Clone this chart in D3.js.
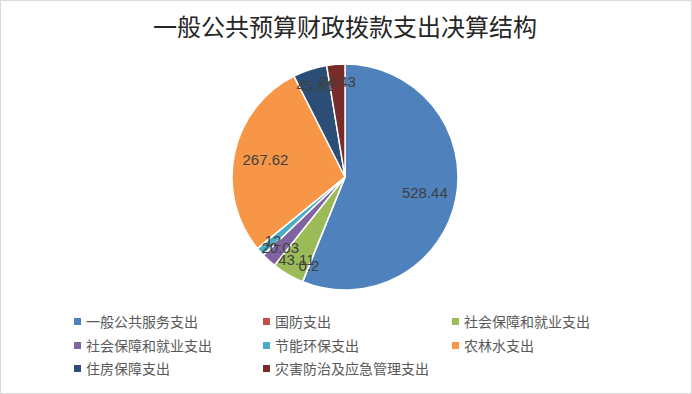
<!DOCTYPE html>
<html>
<head>
    <meta charset="utf-8">
    <script src="https://d3js.org/d3.v7.min.js" charset="utf-8"></script>
    <style>
        body { margin: 0; background: #fff; }
    </style>
</head>
<body>
    <script>
        // data
        var categories = ["一般公共服务支出", "国防支出", "社会保障和就业支出", "社会保障和就业支出",
            "节能环保支出", "农林水支出", "住房保障支出", "灾害防治及应急管理支出"];
        var values = [528.44, 0.2, 43.11, 20.03, 12, 267.62, 45.81, 24.43];
        var valueLabels = ["528.44", "0.2", "43.11", "20.03", "12", "267.62", "45.81", "24.43"];
        var colors = ["#4F81BD", "#C0504D", "#9BBB59", "#8064A2", "#4BACC6", "#F79646", "#2C4D75", "#772C2A"];

        var width = 692, height = 394;
        var cx = 345, cy = 177, r = 113;

        var svg = d3.select("body")
            .append("svg")
            .attr("width", width)
            .attr("height", height);

        svg.append("rect")
            .attr("x", 0.5).attr("y", 0.5)
            .attr("width", width - 1).attr("height", height - 1)
            .style("fill", "white")
            .style("stroke", "#d9d9d9");

        svg.append("text")
            .attr("x", 345)
            .attr("y", 36)
            .attr("text-anchor", "middle")
            .style("font-family", "'Noto Sans CJK SC', sans-serif")
            .style("font-size", "24px")
            .style("fill", "#262626")
            .text("一般公共预算财政拨款支出决算结构");

        var data = values.map(function (v, i) {
            return { name: categories[i], value: v, label: valueLabels[i], color: colors[i] };
        });

        var pie = d3.pie()
            .sort(null)
            .value(function (d) { return d.value; });
        var arcs = pie(data);

        var arc = d3.arc().innerRadius(0).outerRadius(r);

        var g = svg.append("g").attr("transform", "translate(" + cx + "," + cy + ")");

        g.selectAll("path")
            .data(arcs)
            .enter()
            .append("path")
            .attr("d", arc)
            .style("fill", function (d) { return d.data.color; })
            .style("stroke", "white")
            .style("stroke-width", 1.5);

        g.selectAll("text.lbl")
            .data(arcs)
            .enter()
            .append("text")
            .attr("class", "lbl")
            .attr("transform", function (d) {
                var a = (d.startAngle + d.endAngle) / 2;
                var span = d.endAngle - d.startAngle;
                var dist = span < Math.PI / 6 ? r * 0.85 : r * 0.72;
                return "translate(" + (Math.sin(a) * dist) + "," + (-Math.cos(a) * dist) + ")";
            })
            .attr("text-anchor", "middle")
            .attr("dy", "0.35em")
            .style("font-family", "'Liberation Sans', sans-serif")
            .style("font-size", "15px")
            .style("fill", "#404040")
            .text(function (d) { return d.data.label; });

        // legend, 3 columns
        var colX = [74, 263, 452], rowY = [322, 346, 369];
        var leg = svg.selectAll("g.leg")
            .data(data)
            .enter()
            .append("g")
            .attr("class", "leg")
            .attr("transform", function (d, i) {
                return "translate(" + colX[i % 3] + "," + rowY[Math.floor(i / 3)] + ")";
            });
        leg.append("rect")
            .attr("x", 0).attr("y", -4)
            .attr("width", 7).attr("height", 7)
            .style("fill", function (d) { return d.color; });
        leg.append("text")
            .attr("x", 12)
            .attr("dy", "0.35em")
            .style("font-family", "'Noto Sans CJK SC', sans-serif")
            .style("font-size", "14px")
            .style("fill", "#595959")
            .text(function (d) { return d.name; });
    </script>
</body>
</html>
